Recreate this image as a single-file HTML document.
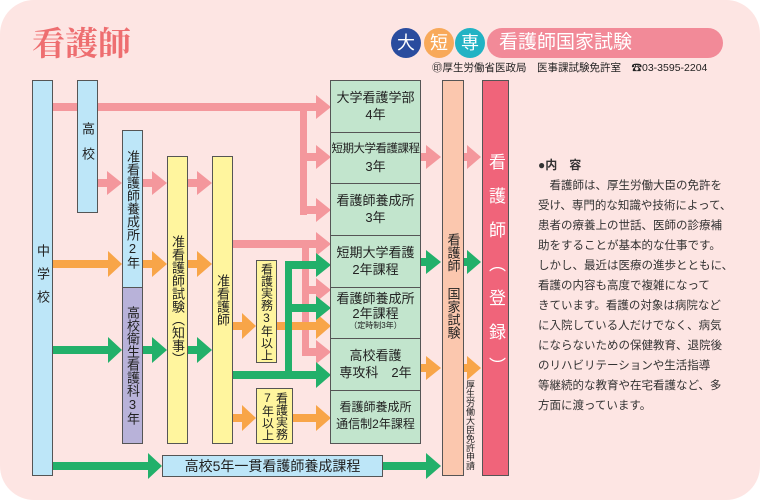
<!DOCTYPE html>
<html><head><meta charset="utf-8"><style>
body{margin:0;width:760px;height:500px;background:#fff;overflow:hidden;font-family:"Liberation Sans","Noto Sans CJK JP",sans-serif;}
.bg{position:absolute;left:0;top:0;width:760px;height:500px;background:#fde5e3;border-radius:34px;}
.b{position:absolute;box-sizing:border-box;border:1px solid #555;display:flex;align-items:center;justify-content:center;text-align:center;color:#222;}
.v{writing-mode:vertical-rl;text-orientation:upright;font-size:13px;line-height:1;}
.g{background:#c2e5cd;font-size:13px;line-height:17px;display:block;padding-top:8px;white-space:nowrap}
svg{position:absolute;left:0;top:0}
.p{position:absolute;font-size:11.5px;color:#333;white-space:nowrap;}
</style></head><body>
<div class="bg"></div>
<div style="position:absolute;left:32px;top:18px;font-family:'Noto Serif CJK SC',serif;font-size:33px;color:#ee6e70;font-weight:bold">看護師</div>
<div style="position:absolute;left:487px;top:28px;width:236px;height:30px;background:#f28a98;border-radius:15px;color:#fff;font-size:19px;line-height:30px;padding-left:12px;box-sizing:border-box">看護師国家試験</div>
<div style="position:absolute;left:391px;top:28px;width:30px;height:30px;border-radius:50%;background:#2a4c9e;color:#fff;font-size:18px;line-height:30px;text-align:center">大</div>
<div style="position:absolute;left:424px;top:28px;width:30px;height:30px;border-radius:50%;background:#f8a95a;color:#fff;font-size:18px;line-height:30px;text-align:center">短</div>
<div style="position:absolute;left:455px;top:28px;width:30px;height:30px;border-radius:50%;background:#22b3c4;color:#fff;font-size:18px;line-height:30px;text-align:center">専</div>
<div style="position:absolute;left:432px;top:60px;font-size:10.5px;color:#222;white-space:nowrap">㊞厚生労働省医政局　医事課試験免許室　☎03-3595-2204</div>

<svg width="760" height="500">
<g fill="#f4979c" stroke="none">
<rect x="52" y="103" width="266" height="8"/>
<rect x="300" y="103" width="7" height="112"/>
<rect x="300" y="153" width="18" height="8"/><rect x="300" y="206" width="18" height="8"/>
<polygon points="316,95 331,107 316,119"/><polygon points="316,145 331,157 316,169"/><polygon points="316,198 331,210 316,222"/>
<rect x="232" y="240" width="86" height="8"/>
<rect x="302" y="240" width="7" height="116"/>
<rect x="302" y="286" width="16" height="8"/><rect x="302" y="348" width="16" height="8"/>
<polygon points="316,232 331,244 316,256"/><polygon points="316,278 331,290 316,302"/><polygon points="316,340 331,352 316,364"/>
<rect x="97" y="179" width="12" height="8"/><polygon points="107,171 122,183 107,195"/>
<rect x="142" y="179" width="12" height="8"/><polygon points="152,171 167,183 152,195"/>
<rect x="187" y="179" width="12" height="8"/><polygon points="197,171 212,183 197,195"/>
<rect x="420" y="153" width="8" height="8"/><polygon points="426,145 441,157 426,169"/>
<rect x="463" y="153" width="6" height="8"/><polygon points="467,145 481,157 467,169"/>
</g>
<g fill="#f8a548">
<rect x="52" y="260" width="58" height="8"/><polygon points="108,251 122,264 108,277"/>
<rect x="142" y="260" width="12" height="8"/><polygon points="152,251 167,264 152,277"/>
<rect x="187" y="260" width="12" height="8"/><polygon points="197,251 212,264 197,277"/>
<rect x="232" y="322" width="12" height="8"/><polygon points="242,313 256,326 242,339"/>
<rect x="277" y="322" width="41" height="8"/><polygon points="316,313 331,326 316,339"/>
<rect x="232" y="414" width="12" height="8"/><polygon points="242,405 256,418 242,431"/>
<rect x="292" y="414" width="26" height="8"/><polygon points="316,405 331,418 316,431"/>
<rect x="420" y="364" width="8" height="8"/><polygon points="426,356 441,368 426,380"/>
<rect x="463" y="364" width="6" height="8"/><polygon points="467,356 481,368 467,380"/>
</g>
<g fill="#22b06a">
<rect x="52" y="346" width="58" height="8"/><polygon points="108,337 122,350 108,363"/>
<rect x="142" y="346" width="12" height="8"/><polygon points="152,337 167,350 152,363"/>
<rect x="187" y="346" width="12" height="8"/><polygon points="197,337 212,350 197,363"/>
<rect x="232" y="371" width="86" height="8"/><polygon points="316,362 331,375 316,388"/>
<rect x="285" y="261" width="7" height="116"/>
<rect x="285" y="261" width="33" height="8"/><polygon points="316,253 331,265 316,277"/>
<rect x="285" y="304" width="33" height="8"/><polygon points="316,296 331,308 316,320"/>
<rect x="420" y="258" width="8" height="8"/><polygon points="426,250 441,262 426,274"/>
<rect x="463" y="258" width="6" height="8"/><polygon points="467,250 481,262 467,274"/>
<rect x="52" y="462" width="98" height="8"/><polygon points="148,453 162,466 148,479"/>
<rect x="382" y="462" width="46" height="8"/><polygon points="426,453 441,466 426,479"/>
</g>
</svg>

<div class="b v" style="left:32px;top:80px;width:21px;height:396px;background:#bde6f8;letter-spacing:10px">中学校</div>
<div class="b v" style="left:77px;top:80px;width:21px;height:133px;background:#bde6f8;letter-spacing:12px">高校</div>
<div class="b v" style="left:122px;top:130px;width:21px;height:158px;background:#bde6f8">准看護師養成所2年</div>
<div class="b v" style="left:122px;top:287px;width:21px;height:157px;background:#b8b2d9">高校衛生看護科3年</div>
<div class="b v" style="left:167px;top:156px;width:21px;height:288px;background:#fff59e">准看護師試験（知事）</div>
<div class="b v" style="left:212px;top:156px;width:21px;height:288px;background:#fff59e">准看護師</div>
<div class="b v" style="left:256px;top:260px;width:21px;height:103px;background:#fff59e;font-size:12px">看護実務3年以上</div>
<div class="b v" style="left:256px;top:388px;width:37px;height:56px;background:#fff59e;font-size:12px;line-height:14px">看護実務7年以上</div>
<div class="b g" style="left:330px;top:80px;width:91px;height:53px">大学看護学部<br>4年</div>
<div class="b g" style="left:330px;top:132px;width:91px;height:52px;font-size:11.5px;letter-spacing:-0.5px">短期大学看護課程<br><span style="font-size:13px;letter-spacing:0">3年</span></div>
<div class="b g" style="left:330px;top:183px;width:91px;height:53px">看護師養成所<br>3年</div>
<div class="b g" style="left:330px;top:235px;width:91px;height:53px">短期大学看護<br>2年課程</div>
<div class="b g" style="left:330px;top:287px;width:91px;height:52px;line-height:15px;padding-top:3px">看護師養成所<br>2年課程<br><span style="font-size:8px;line-height:9px;display:block">（定時制3年）</span></div>
<div class="b g" style="left:330px;top:338px;width:91px;height:53px">高校看護<br>専攻科　2年</div>
<div class="b g" style="left:330px;top:390px;width:91px;height:54px;font-size:12px">看護師養成所<br>通信制2年課程</div>
<div class="b v" style="left:442px;top:80px;width:22px;height:396px;background:#fbc7ae;justify-content:flex-start;padding-top:152px">看護師 国家試験</div>
<div class="b v" style="left:482px;top:80px;width:27px;height:396px;background:#f0647a;color:#fff;font-size:17px;letter-spacing:17px;justify-content:flex-start;padding-top:72px">看護師（登録）</div>
<div style="position:absolute;left:465px;top:380px;writing-mode:vertical-rl;text-orientation:upright;font-size:9px;line-height:10px;color:#222">厚生労働大臣免許申請</div>
<div class="b" style="left:162px;top:455px;width:221px;height:22px;background:#bde6f8;font-size:14px">高校5年一貫看護師養成課程</div>

<div class="p" style="left:538px;top:156px;font-weight:bold;font-size:12px">●内　容</div>
<div class="p" style="left:538px;top:176px;line-height:20px">　看護師は、厚生労働大臣の免許を<br>受け、専門的な知識や技術によって、<br>患者の療養上の世話、医師の診療補<br>助をすることが基本的な仕事です。<br>しかし、最近は医療の進歩とともに、<br>看護の内容も高度で複雑になって<br>きています。看護の対象は病院など<br>に入院している人だけでなく、病気<br>にならないための保健教育、退院後<br>のリハビリテーションや生活指導<br>等継続的な教育や在宅看護など、多<br>方面に渡っています。</div>
</body></html>
